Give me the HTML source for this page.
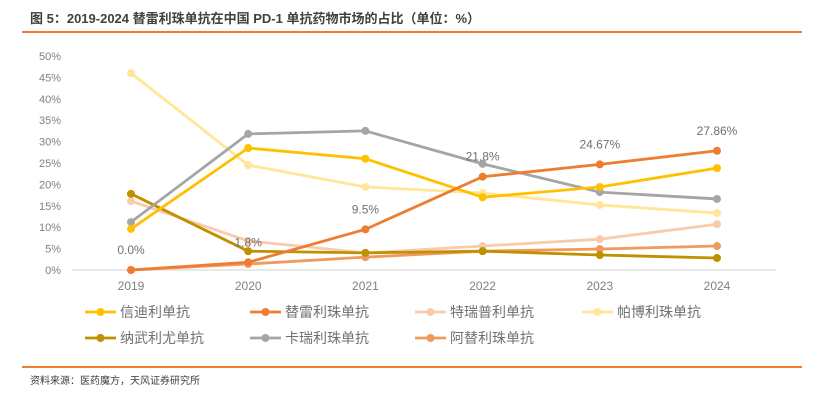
<!DOCTYPE html>
<html><head><meta charset="utf-8"><style>
body{margin:0;background:#fff;width:826px;height:402px;overflow:hidden;font-family:"Liberation Sans","Noto Sans CJK SC",sans-serif}
</style></head><body>
<svg width="826" height="402" style="position:absolute;left:0;top:0">
<text x="30" y="23" font-size="13" font-weight="bold" fill="#404040" font-family="Liberation Sans,Noto Sans CJK SC,sans-serif">图 5：2019-2024 替雷利珠单抗在中国 PD-1 单抗药物市场的占比（单位：%）</text>
<rect x="22" y="31" width="780" height="2" fill="#ED7D31"/>
<rect x="22" y="366" width="780" height="2" fill="#ED7D31"/>
<text x="30" y="384" font-size="10" fill="#404040" font-family="Liberation Sans,Noto Sans CJK SC,sans-serif">资料来源：医药魔方，天风证券研究所</text>
<g id="plot"></g>
</svg>
<script>
const years=["2019","2020","2021","2022","2023","2024"];
const yTicks=[0,5,10,15,20,25,30,35,40,45,50];
const names=["信迪利单抗","替雷利珠单抗","特瑞普利单抗","帕博利珠单抗","纳武利尤单抗","卡瑞利珠单抗","阿替利珠单抗"];
const colors=["#FFC000","#ED7D31","#F8CBAD","#FFE699","#BF9000","#A5A5A5","#F19A5E"];
const sXindi=[9.6,28.5,26,17,19.4,23.8];
const sTilei=[0,1.8,9.5,21.8,24.67,27.86];
const sTerui=[16.1,6.8,4,5.6,7.2,10.7];
const sPabo=[46,24.5,19.4,18,15.2,13.3];
const sNawu=[17.8,4.4,4,4.4,3.5,2.8];
const sKarui=[11.2,31.8,32.5,24.8,18.2,16.6];
const sATi=[0,1.4,3,4.4,4.9,5.6];
const tileiLabels=["0.0%","1.8%","9.5%","21.8%","24.67%","27.86%"];
const series=[sXindi,sTilei,sTerui,sPabo,sNawu,sKarui,sATi];
const drawOrder=[3,2,6,4,5,0,1];
const ns="http://www.w3.org/2000/svg";
const g=document.getElementById("plot");
const X=i=>131+i*117.2, Y=v=>270-v*4.28;
function mk(t,a,p){const e=document.createElementNS(ns,t);for(const k in a)e.setAttribute(k,a[k]);(p||g).appendChild(e);return e;}
const F="Liberation Sans,Noto Sans CJK SC,sans-serif";
let gl=mk("line",{x1:72,x2:776,y1:Y(0),y2:Y(0),stroke:"#e8e8e8","stroke-width":2});


yTicks.forEach(v=>{let t=mk("text",{x:61,y:Y(v)+4,"font-size":11,fill:"#808080","text-anchor":"end","font-family":F});t.textContent=v+"%";

});
years.forEach((y,i)=>{let t=mk("text",{x:X(i),y:290,"font-size":12,fill:"#808080","text-anchor":"middle","font-family":F});t.textContent=y;

});
drawOrder.forEach(k=>{const s=series[k];
let p=mk("polyline",{points:s.map((v,i)=>X(i)+","+Y(v)).join(" "),fill:"none",stroke:colors[k],"stroke-width":2.8});


s.forEach((v,i)=>{let c=mk("circle",{cx:X(i),cy:Y(v),r:4,fill:colors[k]});

});});
tileiLabels.forEach((l,i)=>{let t=mk("text",{x:X(i),y:Y(sTilei[i])-16,"font-size":12,fill:"#707070","text-anchor":"middle","font-family":F});t.textContent=l;

});
const lx=[85,250,415,582];
names.forEach((n,k)=>{const x=lx[k%4],y=k<4?312:338;
let lg=mk("g",{});


mk("line",{x1:x,x2:x+31,y1:y,y2:y,stroke:colors[k],"stroke-width":2.8},lg);
mk("circle",{cx:x+15.5,cy:y,r:4,fill:colors[k]},lg);
let t=mk("text",{x:x+35,y:y+5,"font-size":14,fill:"#707070","font-family":F},lg);t.textContent=n;});
</script>
</body></html>
